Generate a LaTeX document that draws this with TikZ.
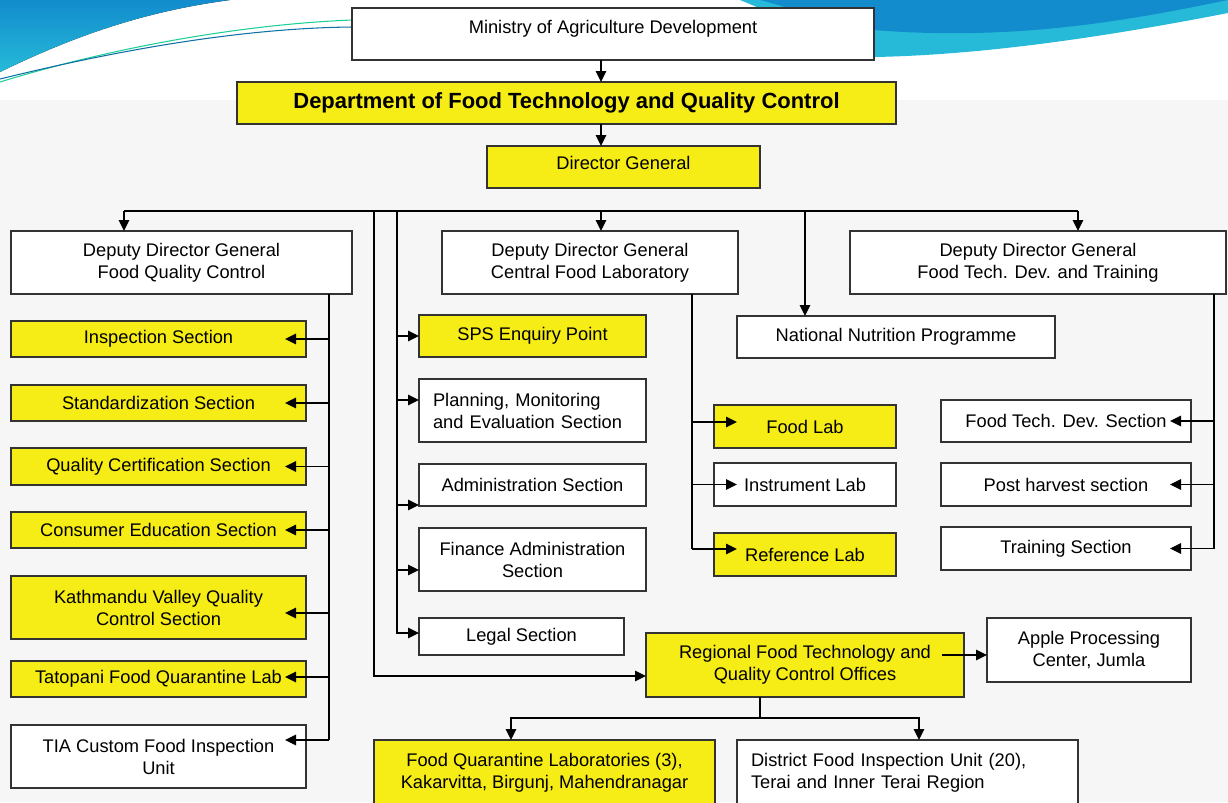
\documentclass[tikz,border=0pt]{standalone}
\usepackage{fontspec}
\setmainfont{Liberation Sans}
\usetikzlibrary{arrows.meta}

\definecolor{boxyellow}{RGB}{246,236,22}
\definecolor{swooshblue}{RGB}{18,140,205}
\definecolor{swooshcyan}{RGB}{38,186,216}
\definecolor{paper}{RGB}{246,246,246}

\tikzset{
  box/.style={draw=black!80, line width=0.7pt, inner sep=0pt, outer sep=0pt, align=center},
  ybox/.style={box, fill=boxyellow},
  wbox/.style={box, fill=white},
  sz/.style 2 args={minimum width=#1*0.02cm, minimum height=#2*0.02cm},
  link/.style={line width=0.9pt},
  arr/.style={link, -{Triangle[length=0.22cm, width=0.21cm]}},
}

\begin{document}
\begin{tikzpicture}[x=0.02cm, y=-0.02cm, font=\fontsize{10.4}{12.5}\selectfont]
  \useasboundingbox (0,0) rectangle (1228,802);

  % backdrop and swoosh
  \fill[paper] (0,100) rectangle (1228,802);
  \fill[top color=swooshblue, bottom color=swooshcyan] (0,0) -- (230,0) .. controls (140,12) and (70,38) .. (0,72) -- cycle;
  \draw[swooshcyan!70!green, line width=0.6pt] (0,82) .. controls (120,45) and (250,24) .. (352,20);
  \draw[swooshblue!80!black, line width=0.6pt] (0,79) .. controls (130,47) and (250,28) .. (352,27);
  \fill[swooshcyan] (740,0) -- (1228,0) -- (1228,13) .. controls (1120,34) and (990,55) .. (874,57) .. controls (830,45) and (790,20) .. (740,0) -- cycle;
  \fill[swooshblue] (760,0) -- (1228,0) .. controls (1140,18) and (1020,42) .. (874,30) .. controls (830,25) and (800,10) .. (760,0) -- cycle;

  % top of the chart
  \node[wbox, sz={522}{52}, text depth=8pt] (ministry) at (613,34) {Ministry of Agriculture Development};
  \node[ybox, sz={659}{42}, font=\fontsize{12.5}{14}\selectfont\bfseries] (dept) at (566.5,103) {Department of Food Technology and Quality Control};
  \node[ybox, sz={273}{42}, text depth=4.6pt] (dg) at (623.5,167) {Director General};

  \coordinate (trunk) at (601,0);
  \draw[arr] (ministry.south -| trunk) -- (dept.north -| trunk);
  \draw[arr] (dept.south -| trunk) -- (dg.north -| trunk);

  % deputy director generals
  \node[wbox, sz={341}{63}] (ddgq) at (181.5,262.5) {Deputy Director General\\Food Quality Control};
  \node[wbox, sz={296}{63}] (ddgc) at (590,262.5) {Deputy Director General\\Central Food Laboratory};
  \node[wbox, sz={376}{63}] (ddgt) at (1038,262.5) {Deputy Director General\\Food Tech. Dev. and Training};
  \node[wbox, sz={318}{42}] (nnp) at (896,337) {National Nutrition Programme};

  \coordinate (busL) at (124,211);
  \coordinate (busR) at (1078,211);
  \coordinate (nnpdrop) at (805,211);
  \draw[link] (busL) -- (busR);
  \draw[arr] (busL) -- (busL |- ddgq.north);
  \draw[arr] (busL -| trunk) -- (trunk |- ddgc.north);
  \draw[arr] (busR) -- (busR |- ddgt.north);
  \draw[arr] (nnpdrop) -- (nnpdrop |- nnp.north);

  % food quality control sections
  \coordinate (spQ) at (329,0);
  \foreach \nm/\yc/\bh/\fc/\ay/\txt in {
      insp/339/36/boxyellow/0/Inspection Section,
      stdz/403/36/boxyellow/0/Standardization Section,
      qcert/466.5/37/boxyellow/0/Quality Certification Section,
      cedu/530/36/boxyellow/0/Consumer Education Section,
      ktm/607.5/63/boxyellow/-0.11/Kathmandu Valley Quality\\Control Section,
      tato/679/36/boxyellow/0.04/Tatopani Food Quarantine Lab,
      tia/756.5/63/white/0.33/TIA Custom Food Inspection\\Unit} {
    \node[box, fill=\fc, sz={295}{\bh}] (\nm) at (158.5,\yc) {\txt};
    \draw[arr] ([yshift=\ay cm]spQ |- \nm.east) -- ([xshift=-0.42cm, yshift=\ay cm]\nm.east);
  }
  \draw[link] (ddgq.south -| spQ) -- ([yshift=0.33cm]spQ |- tia.east);

  % sections under the director general
  \node[ybox, sz={227}{42}] (sps) at (532.5,336) {SPS Enquiry Point};
  \node[wbox, sz={227}{63}, text width=3.98cm, align=left] (pme) at (532.5,410.5) {Planning, Monitoring\\and Evaluation Section};
  \node[wbox, sz={227}{42}] (adm) at (532.5,485) {Administration Section};
  \node[wbox, sz={227}{63}] (fin) at (532.5,559.5) {Finance Administration\\Section};
  \node[wbox, sz={205}{37}] (legal) at (521.5,636.5) {Legal Section};

  \coordinate (spA) at (397,211);
  \coordinate (spB) at (374,211);
  \foreach \nm/\ay in {sps/0, pme/0.21, adm/-0.4, fin/-0.21} {
    \draw[arr] ([yshift=\ay cm]spA |- \nm.west) -- ([yshift=\ay cm]\nm.west);
  }
  \draw[arr] (spA) |- ([yshift=0.07cm]legal.west);

  % regional offices
  \node[ybox, sz={318}{64}] (rfo) at (805,665) {Regional Food Technology and\\Quality Control Offices};
  \node[wbox, sz={204}{64}] (apple) at (1089,650) {Apple Processing\\Center, Jumla};
  \draw[arr] (spB) |- ([yshift=-0.22cm]rfo.west);
  \draw[arr] ([xshift=-0.44cm, yshift=0.2cm]rfo.east) -- ([yshift=-0.1cm]apple.west);

  \node[ybox, sz={341}{66}] (fql) at (544.5,773) {Food Quarantine Laboratories (3),\\Kakarvitta, Birgunj, Mahendranagar};
  \node[wbox, sz={341}{66}, text width=6.26cm, align=left] (dfi) at (907.5,773) {District Food Inspection Unit (20),\\Terai and Inner Terai Region};

  \coordinate (rfodrop) at (760,718);
  \coordinate (fqlx) at (511,0);
  \coordinate (dfix) at (919,0);
  \draw[link] (rfo.south -| rfodrop) -- (rfodrop);
  \draw[arr] (rfodrop) -| (fqlx |- fql.north);
  \draw[arr] (rfodrop) -| (dfix |- dfi.north);

  % central food laboratory
  \coordinate (spC) at (692,0);
  \foreach \nm/\yc/\fc/\ay/\txt in {
      flab/426.5/boxyellow/0.09/Food Lab,
      ilab/484.5/white/0/Instrument Lab,
      rlab/554.5/boxyellow/0.11/Reference Lab} {
    \node[box, fill=\fc, sz={182}{43}] (\nm) at (805,\yc) {\txt};
    \draw[arr] ([yshift=\ay cm]spC |- \nm.west) -- ([xshift=0.46cm, yshift=\ay cm]\nm.west);
  }
  \draw[link] (ddgc.south -| spC) -- ([yshift=0.11cm]spC |- rlab.west);

  % food tech. dev. and training
  \coordinate (spT) at (1214,0);
  \foreach \nm/\yc/\bh/\txt in {
      ftd/421/42/Food Tech. Dev. Section,
      phs/484.5/43/Post harvest section,
      trn/548.5/43/Training Section} {
    \node[wbox, sz={250}{\bh}] (\nm) at (1066,\yc) {\txt};
    \draw[arr] (spT |- \nm.east) -- ([xshift=-0.42cm]\nm.east);
  }
  \draw[link] (ddgt.south -| spT) -- (spT |- trn.east);
\end{tikzpicture}
\end{document}
